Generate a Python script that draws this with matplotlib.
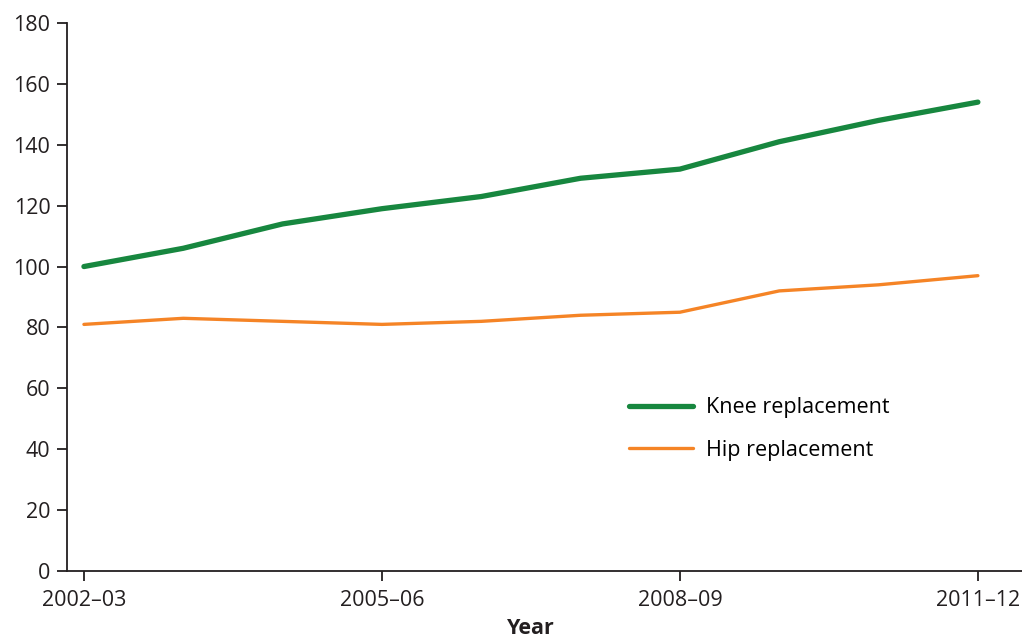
import matplotlib
matplotlib.use("Agg")
import matplotlib.pyplot as plt

# Data
years = ["2002–03", "2003–04", "2004–05", "2005–06", "2006–07",
         "2007–08", "2008–09", "2009–10", "2010–11", "2011–12"]
knee = [100, 106, 114, 119, 123, 129, 132, 141, 148, 154]
hip = [81, 83, 82, 81, 82, 84, 85, 92, 94, 97]
tick_idx = [0, 3, 6, 9]

plt.rcParams['font.family'] = ['Open Sans', 'DejaVu Sans']

fig = plt.figure(figsize=(10.22, 6.4), dpi=100)
ax = fig.add_axes([0.0656, 0.1078, 0.934, 0.8563])

x = list(range(len(years)))
ax.plot(x, knee, color="#17873f", lw=3.8, solid_capstyle="round",
        label="Knee replacement")
ax.plot(x, hip, color="#f58426", lw=2.4, solid_capstyle="round",
        label="Hip replacement")

ax.set_xlim(-0.17, 9.44)
ax.set_ylim(0, 180)
ax.set_yticks(range(0, 181, 20))
ax.set_xticks(tick_idx)
ax.set_xticklabels([years[i] for i in tick_idx])

for s in ["top", "right"]:
    ax.spines[s].set_visible(False)
for s in ["left", "bottom"]:
    ax.spines[s].set_linewidth(1.3)
    ax.spines[s].set_color("#231f20")

ax.tick_params(axis="both", labelsize=15.5, colors="#231f20", width=1.3, length=7)
ax.tick_params(axis="y", pad=5)
ax.tick_params(axis="x", pad=7)

# "Year" label sits just above the bottom edge
ax.set_xlabel("Year", fontsize=15.5, fontweight="bold", color="#231f20")
ax.xaxis.set_label_coords(0.486, -0.086)

leg = ax.legend(loc="upper left", bbox_to_anchor=(0.568, 0.352), frameon=False,
                fontsize=15.5, handlelength=3.0, labelspacing=1.0, handletextpad=0.6)

fig.savefig("out.png", dpi=100)
